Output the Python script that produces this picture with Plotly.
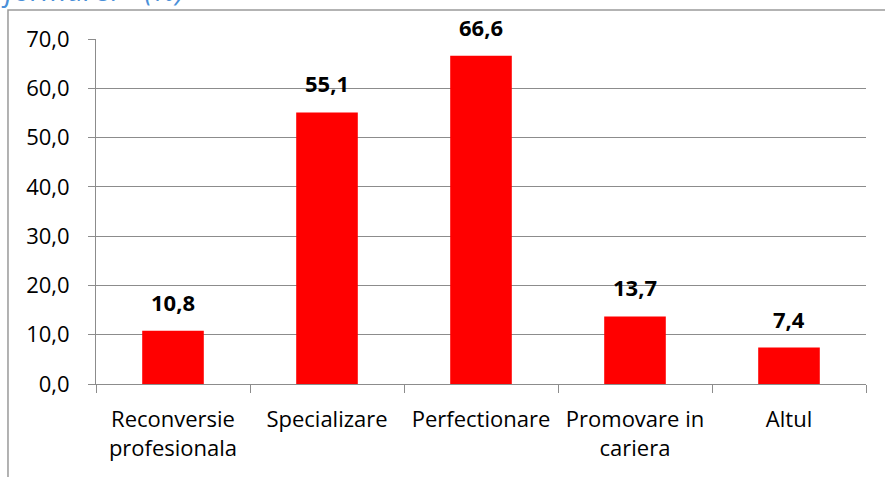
import plotly.graph_objects as go

categories = ["Reconversie<br>profesionala", "Specializare", "Perfectionare",
              "Promovare in<br>cariera", "Altul"]
values = [10.8, 55.1, 66.6, 13.7, 7.4]
y_ticks = [0, 10, 20, 30, 40, 50, 60, 70]
y_tick_labels = ["0,0", "10,0", "20,0", "30,0", "40,0", "50,0", "60,0", "70,0"]
value_labels = [f"{v:.1f}".replace(".", ",") for v in values]

FONT = "'Open Sans', sans-serif"
GRID = "#8c8c8c"

fig = go.Figure(
    go.Bar(
        x=categories,
        y=values,
        marker=dict(color="#ff0000", line=dict(width=0)),
        width=0.4,
    )
)

# value labels sitting above each bar
for cat, val, lab in zip(categories, values, value_labels):
    fig.add_annotation(
        x=cat, y=val, text=lab, showarrow=False,
        xanchor="center", yanchor="bottom", yshift=12,
        font=dict(family=FONT, size=22, color="black", weight="bold"),
    )

fig.update_layout(
    width=885,
    height=477,
    margin=dict(l=96, r=19, t=39, b=93),
    paper_bgcolor="white",
    plot_bgcolor="white",
    showlegend=False,
    font=dict(family=FONT, size=22, color="black"),
    bargap=0.6,
    xaxis=dict(
        showline=True,
        linecolor=GRID,
        linewidth=1,
        ticks="outside",
        tickson="boundaries",
        ticklen=8,
        tickcolor=GRID,
        tickfont=dict(size=22),
        showgrid=False,
        ticklabelstandoff=16,
    ),
    yaxis=dict(
        range=[0, 70],
        tickvals=y_ticks,
        ticktext=y_tick_labels,
        showline=True,
        linecolor=GRID,
        linewidth=1,
        ticks="outside",
        ticklen=7,
        tickcolor=GRID,
        showgrid=True,
        gridcolor=GRID,
        gridwidth=1,
        zeroline=False,
        tickfont=dict(size=22),
        ticklabelstandoff=14,
    ),
)

# outer chart frame (only top and left edges fall inside the page)
fig.add_shape(
    type="rect", xref="paper", yref="paper",
    x0=-0.1143, x1=1.08, y0=-0.6, y1=1.084,
    line=dict(color="#9a9a9a", width=1.5),
    fillcolor="rgba(0,0,0,0)", layer="below",
)

# title, mostly above the top edge of the page
fig.add_annotation(
    text="formare?   (%)", xref="paper", yref="paper",
    x=-0.126, y=1.0815, xanchor="left", yanchor="bottom",
    showarrow=False,
    font=dict(family=FONT, size=29, color="#4a90d9", style="italic"),
)

fig.write_html("out.html")
